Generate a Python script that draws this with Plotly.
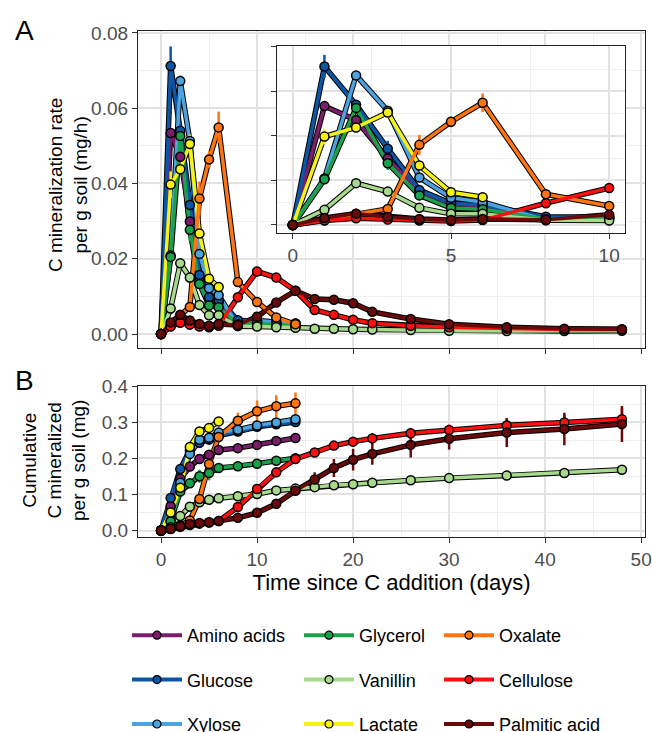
import plotly.graph_objects as go

# ---------------- data ----------------
names = ["Amino acids", "Glucose", "Xylose", "Glycerol", "Vanillin",
         "Lactate", "Oxalate", "Cellulose", "Palmitic acid"]
colors = {"Amino acids": "#7A1E6C", "Glucose": "#0B57A6", "Xylose": "#4DA3DD",
          "Glycerol": "#1BA14B", "Vanillin": "#A8DA8E", "Lactate": "#F7F216",
          "Oxalate": "#FF7510", "Cellulose": "#FF1010", "Palmitic acid": "#6B0A0A"}

t_short = [0, 1, 2, 3, 4, 5, 6, 8, 10, 12, 14]
t_lact = [0, 1, 2, 3, 4, 5, 6]
t_long = [0, 1, 2, 3, 4, 5, 6, 8, 10, 12, 14, 16, 18, 20, 22, 26, 30, 36, 42, 48]
times = {"Amino acids": t_short, "Glucose": t_short, "Xylose": t_short,
         "Glycerol": t_short, "Vanillin": t_long, "Lactate": t_lact,
         "Oxalate": t_short, "Cellulose": t_long, "Palmitic acid": t_long}

# C mineralization rate (mg/h per g soil)
rate = {
    "Amino acids": [0, 0.0534, 0.0471, 0.0299, 0.0150, 0.0095, 0.0084, 0.0030, 0.0030, 0.0025, 0.0022],
    "Glucose": [0, 0.0712, 0.0540, 0.0343, 0.0157, 0.0098, 0.0090, 0.0037, 0.0035, 0.0030, 0.0028],
    "Xylose": [0, 0.0209, 0.0672, 0.0513, 0.0213, 0.0122, 0.0103, 0.0022, 0.0036, 0.0031, 0.0028],
    "Glycerol": [0, 0.0205, 0.0526, 0.0277, 0.0133, 0.0076, 0.0071, 0.0026, 0.0028, 0.0025, 0.0022],
    "Vanillin": [0, 0.0068, 0.0188, 0.0150, 0.0077, 0.0050, 0.0050, 0.0021, 0.0020, 0.0018, 0.0017,
                 0.0014, 0.0014, 0.0013, 0.0012, 0.0011, 0.0009, 0.0008, 0.0008, 0.0009],
    "Lactate": [0, 0.0397, 0.0438, 0.0505, 0.0267, 0.0147, 0.0125],
    "Oxalate": [0, 0.0022, 0.0050, 0.0072, 0.0360, 0.0464, 0.0549, 0.0138, 0.0085, 0.0044, 0.0026],
    "Cellulose": [0, 0.0020, 0.0030, 0.0025, 0.0020, 0.0018, 0.0022, 0.0098, 0.0166, 0.0150, 0.0115,
                  0.0064, 0.0051, 0.0038, 0.0029, 0.0022, 0.0018, 0.0014, 0.0012, 0.0012],
    "Palmitic acid": [0, 0.0031, 0.0051, 0.0036, 0.0027, 0.0022, 0.0027, 0.0024, 0.0046, 0.0084, 0.0115,
                      0.0093, 0.0091, 0.0082, 0.0059, 0.0040, 0.0026, 0.0018, 0.0014, 0.0013],
}
rate_err = {
    "Amino acids": [0, 0.001, 0.0015, 0.001, 0.001, 0, 0, 0, 0, 0, 0],
    "Glucose": [0, 0.0052, 0.001, 0.0035, 0.001, 0, 0, 0, 0, 0, 0],
    "Xylose": [0, 0.001, 0.0015, 0.001, 0.001, 0, 0, 0, 0, 0, 0],
    "Glycerol": [0, 0.001, 0.0015, 0.003, 0.001, 0, 0, 0, 0, 0, 0],
    "Vanillin": [0] * 20,
    "Lactate": [0, 0.0035, 0.001, 0.0025, 0.001, 0, 0],
    "Oxalate": [0, 0, 0, 0.0005, 0.0045, 0.0022, 0.0042, 0.0008, 0.0005, 0, 0],
    "Cellulose": [0] * 20,
    "Palmitic acid": [0, 0, 0, 0, 0, 0, 0, 0, 0, 0, 0, 0.0008, 0, 0, 0, 0, 0, 0, 0, 0],
}

# Cumulative C mineralized (mg per g soil)
cum = {
    "Amino acids": [0, 0.067, 0.143, 0.177, 0.198, 0.210, 0.223, 0.228, 0.237, 0.248, 0.256],
    "Glucose": [0, 0.090, 0.170, 0.222, 0.243, 0.252, 0.263, 0.274, 0.287, 0.294, 0.300],
    "Xylose": [0, 0.027, 0.132, 0.212, 0.251, 0.257, 0.271, 0.279, 0.291, 0.299, 0.308],
    "Glycerol": [0, 0.025, 0.108, 0.131, 0.150, 0.159, 0.173, 0.178, 0.185, 0.193, 0.200],
    "Vanillin": [0, 0.009, 0.040, 0.066, 0.078, 0.085, 0.089, 0.095, 0.101, 0.111, 0.116,
                 0.120, 0.125, 0.128, 0.132, 0.139, 0.145, 0.152, 0.159, 0.168],
    "Lactate": [0, 0.050, 0.118, 0.231, 0.274, 0.284, 0.302],
    "Oxalate": [0, 0.005, 0.014, 0.028, 0.087, 0.184, 0.259, 0.304, 0.330, 0.344, 0.352],
    "Cellulose": [0, 0.004, 0.010, 0.015, 0.019, 0.022, 0.026, 0.065, 0.115, 0.161, 0.198,
                  0.216, 0.235, 0.246, 0.255, 0.269, 0.278, 0.291, 0.299, 0.308],
    "Palmitic acid": [0, 0.005, 0.012, 0.018, 0.021, 0.023, 0.026, 0.035, 0.049, 0.074, 0.110,
                      0.141, 0.173, 0.196, 0.212, 0.237, 0.254, 0.271, 0.281, 0.295],
}
cum_err = {
    "Amino acids": [0, 0.003, 0.005, 0.005, 0.005, 0.005, 0.005, 0.005, 0.005, 0.005, 0.005],
    "Glucose": [0, 0.005, 0.008, 0.01, 0.015, 0.015, 0.01, 0.01, 0.01, 0.01, 0.01],
    "Xylose": [0, 0.003, 0.006, 0.008, 0.01, 0.01, 0.008, 0.008, 0.008, 0.008, 0.008],
    "Glycerol": [0, 0.003, 0.006, 0.01, 0.018, 0.02, 0.008, 0.006, 0.006, 0.006, 0.006],
    "Vanillin": [0] * 20,
    "Lactate": [0, 0.005, 0.008, 0.008, 0.006, 0.005, 0.005],
    "Oxalate": [0, 0, 0, 0.003, 0.008, 0.01, 0.012, 0.022, 0.03, 0.03, 0.03],
    "Cellulose": [0, 0, 0, 0, 0, 0, 0, 0.005, 0.006, 0.008, 0.008,
                  0.008, 0.01, 0.01, 0.015, 0.015, 0.015, 0.02, 0.02, 0.03],
    "Palmitic acid": [0, 0, 0, 0, 0, 0, 0, 0.003, 0.005, 0.008, 0.01,
                      0.02, 0.025, 0.03, 0.03, 0.035, 0.03, 0.04, 0.045, 0.05],
}

legend_cols = [["Amino acids", "Glucose", "Xylose"],
               ["Glycerol", "Vanillin", "Lactate"],
               ["Oxalate", "Cellulose", "Palmitic acid"]]

# ---------------- figure ----------------
W, H = 652, 732
FONT = "Liberation Sans, Arial, sans-serif"

def fx(p):
    return p / W

def fy(p):
    return 1 - p / H

fig = go.Figure()

def add_panel(data, err, xa, ya, tmax=None):
    series = []
    for n in names:
        t = times[n]
        v = data[n]
        e = err[n]
        if tmax is not None:
            idx = [i for i, tt in enumerate(t) if tt <= tmax]
            t = [t[i] for i in idx]
            v = [v[i] for i in idx]
            e = [e[i] for i in idx]
        series.append((n, t, v, e))
    for n, t, v, e in series:
        fig.add_trace(go.Scatter(x=t, y=v, mode="lines", xaxis=xa, yaxis=ya,
                                 line=dict(color="black", width=5.5), showlegend=False,
                                 hoverinfo="skip"))
    for n, t, v, e in series:
        fig.add_trace(go.Scatter(x=t, y=v, mode="lines", xaxis=xa, yaxis=ya,
                                 line=dict(color=colors[n], width=3.5), showlegend=False,
                                 error_y=dict(type="data", array=e, color=colors[n],
                                              thickness=2.5, width=0),
                                 hoverinfo="skip"))
    for n, t, v, e in series:
        fig.add_trace(go.Scatter(x=t, y=v, mode="markers", xaxis=xa, yaxis=ya,
                                 marker=dict(color=colors[n], size=9,
                                             line=dict(color="black", width=1.5)),
                                 showlegend=False, name=n))

add_panel(rate, rate_err, "x", "y")
add_panel(cum, cum_err, "x2", "y2")
add_panel(rate, rate_err, "x3", "y3", tmax=10)

# legend-only entries
for ci, col in enumerate(legend_cols):
    lg = "legend" if ci == 0 else f"legend{ci + 1}"
    for n in col:
        fig.add_trace(go.Scatter(x=[None], y=[None], mode="lines+markers", name=n,
                                 legend=lg, legendgroup=n,
                                 line=dict(color=colors[n], width=4),
                                 marker=dict(color=colors[n], size=8,
                                             line=dict(color="black", width=1.2))))

grid_major = "#E2E2E2"
grid_minor = "#EFEFEF"
axis_common = dict(showline=True, mirror=True, linecolor="#222", linewidth=1.2,
                   ticks="outside", ticklen=5, tickcolor="#333", tickwidth=1.2,
                   showgrid=True, gridcolor=grid_major, gridwidth=1.5,
                   zeroline=False, tickfont=dict(family=FONT, size=19, color="#4D4D4D"))

x_dom = [fx(138), fx(645)]
fig.update_layout(
    width=W, height=H,
    margin=dict(l=0, r=0, t=0, b=0, autoexpand=False),
    paper_bgcolor="white", plot_bgcolor="white",
    font=dict(family=FONT, color="black"),
    xaxis=dict(domain=x_dom, range=[-2.4, 50.4], dtick=10, tick0=0,
               showticklabels=False, anchor="y",
               minor=dict(dtick=5, showgrid=True, gridcolor=grid_minor, gridwidth=0.8),
               **axis_common),
    yaxis=dict(domain=[fy(348), fy(31)], range=[-0.0037, 0.0805], dtick=0.02, tick0=0,
               tickformat=".2f", anchor="x",
               minor=dict(dtick=0.01, showgrid=True, gridcolor=grid_minor, gridwidth=0.8),
               **axis_common),
    xaxis2=dict(domain=x_dom, range=[-2.4, 50.4], dtick=10, tick0=0, anchor="y2",
                minor=dict(dtick=5, showgrid=True, gridcolor=grid_minor, gridwidth=0.8),
                title=dict(text="Time since C addition (days)",
                           font=dict(family=FONT, size=22, color="black"), standoff=3),
                **axis_common),
    yaxis2=dict(domain=[fy(537), fy(386)], range=[-0.018, 0.4], dtick=0.1, tick0=0,
                tickformat=".1f", anchor="x2",
                minor=dict(dtick=0.05, showgrid=True, gridcolor=grid_minor, gridwidth=0.8),
                **axis_common),
    xaxis3=dict(domain=[fx(277), fx(625)], range=[-0.5, 10.5], dtick=5, tick0=0, anchor="y3",
                minor=dict(dtick=2.5, showgrid=True, gridcolor=grid_minor, gridwidth=0.8),
                **axis_common),
    yaxis3=dict(domain=[fy(233), fy(46)], range=[-0.0036, 0.0804], dtick=0.02, tick0=0,
                showticklabels=False, anchor="x3",
                minor=dict(dtick=0.01, showgrid=True, gridcolor=grid_minor, gridwidth=0.8),
                **axis_common),
)

leg_common = dict(orientation="v", yanchor="top", xanchor="left",
                  font=dict(family=FONT, size=18, color="black"),
                  tracegroupgap=18, bgcolor="rgba(0,0,0,0)", itemwidth=50)
fig.update_layout(
    legend=dict(x=fx(127), y=fy(617), **leg_common),
    legend2=dict(x=fx(299), y=fy(617), **leg_common),
    legend3=dict(x=fx(439), y=fy(617), **leg_common),
)

# y-axis titles and panel letters
fig.add_annotation(text="C mineralization rate<br>per g soil (mg/h)", textangle=-90,
                   xref="paper", yref="paper", x=fx(68), y=fy(185), showarrow=False,
                   xanchor="center", yanchor="middle",
                   font=dict(family=FONT, size=19, color="black"))
fig.add_annotation(text="Cumulative<br>C mineralized<br>per g soil (mg)", textangle=-90,
                   xref="paper", yref="paper", x=fx(54), y=fy(460), showarrow=False,
                   xanchor="center", yanchor="middle",
                   font=dict(family=FONT, size=19, color="black"))
fig.add_annotation(text="A", xref="paper", yref="paper", x=fx(24), y=fy(31), showarrow=False,
                   xanchor="center", yanchor="middle",
                   font=dict(family=FONT, size=28, color="black"))
fig.add_annotation(text="B", xref="paper", yref="paper", x=fx(24), y=fy(380), showarrow=False,
                   xanchor="center", yanchor="middle",
                   font=dict(family=FONT, size=28, color="black"))

fig.write_html("out.html", post_script="document.body.style.margin='0px';",
               config={"displayModeBar": False})
